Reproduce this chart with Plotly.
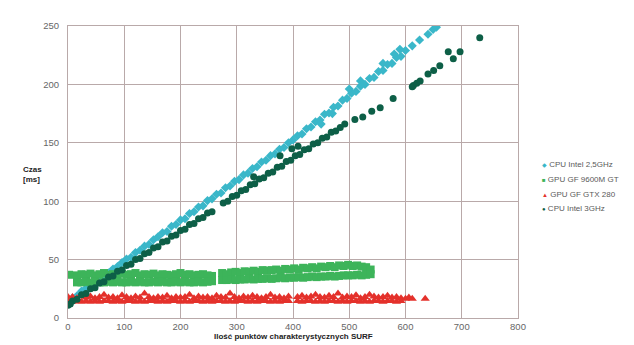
import plotly.graph_objects as go

# ---------------- data ----------------
series_names = ["CPU Intel 2,5GHz", "GPU GF 9600M GT", "GPU GF GTX 280", "CPU Intel 3GHz"]
series_colors = ["#3ab7c9", "#3db45a", "#e4312b", "#0d5f47"]
legend_glyphs = ["◆", "■", "▲", "●"]

# CPU Intel 2,5GHz
cpu25_x = [0, 8, 16, 24, 32, 40, 48, 56, 64, 72, 80, 88, 96, 104, 112, 120, 128, 136, 144, 152,
           160, 168, 176, 184, 192, 200, 208, 216, 224, 232, 240, 248, 256, 264, 272, 280, 288, 296, 304, 312,
           320, 328, 336, 344, 352, 360, 368, 376, 384, 392, 400, 408, 416, 424, 432, 440, 448, 456, 464, 472,
           480, 488, 496, 504, 512, 520, 528, 536, 544, 552, 560, 568, 576, 584, 592, 600,
           612, 625, 640, 649, 655, 450, 470, 500, 520, 560, 580, 590]
cpu25_y = [14.5, 17, 19, 23, 25.5, 27, 31, 33, 37, 38.5, 42, 44, 47.5, 50.5, 52, 56, 58, 61.5, 63, 67,
           69.5, 73, 74, 78.5, 80, 84, 85, 89.5, 91, 95, 96, 100.5, 102, 106, 107, 111.5, 113, 117, 118.5, 122.5,
           124, 128, 129.5, 133.5, 135, 139, 140.5, 144.5, 146, 150, 152.5, 156, 157.5, 162, 163.5, 168, 169.5, 174.5, 175.5, 180.5,
           181.5, 186.5, 188, 192.5, 194, 198.5, 200, 205, 206, 211, 212, 217, 218, 223, 224, 229,
           233, 238, 243, 247, 249, 166, 175, 196, 203, 218, 226, 230]

# GPU GF 9600M GT (band: upper and lower samples)
gf9600_x = [16, 24, 32, 40, 48, 56, 64, 72, 80, 88, 96, 104, 112, 120, 128, 136, 144, 152, 160, 168,
            176, 184, 192, 200, 208, 216, 224, 232, 240, 248, 256,
            274, 282, 290, 298, 306, 314, 322, 330, 338, 346, 354, 362, 370, 378, 386, 394, 402, 410, 418,
            426, 434, 442, 450, 458, 466, 474, 482, 490, 498, 506, 514, 522, 530, 538]
gf9600_y_top = [36.5, 37.5, 37, 38, 36.5, 37.5, 38.5, 37, 37.5, 36.5, 38, 37, 37.5, 38.5, 36.5, 37.5, 37, 38, 36.5, 37.5,
                37, 36.5, 37.5, 38.5, 37, 37.5, 36.5, 37, 37.5, 36.5, 36,
                38.5, 37.5, 39, 39.5, 38.5, 40, 39.5, 40.5, 39.5, 41, 40.5, 41, 41.5, 40.5, 42, 41.5, 42.5, 41.5, 43,
                42.5, 43.5, 42.5, 44, 43.5, 44.5, 43.5, 45, 44.5, 45.5, 44.5, 45, 44, 43.5, 41.5]
gf9600_y_bottom = [30.5, 30.5, 31, 30.5, 31, 30.5, 30.5, 31, 30.5, 31, 30.5, 30.5, 31, 30.5, 31, 30.5, 30.5, 31, 30.5, 31,
                   30.5, 30.5, 31, 30.5, 31, 30.5, 30.5, 31, 30.5, 31, 31.5,
                   32.5, 32.5, 33, 32.5, 33, 33, 33.5, 33, 33.5, 33.5, 34, 33.5, 34, 34.5, 34, 34.5, 34.5, 35, 34.5,
                   35, 35.5, 35, 35.5, 35.5, 36, 35.5, 36, 36.5, 36.5, 36.5, 37, 36.5, 37, 37.5]
gf9600_extra_x = [2]
gf9600_extra_y = [37]

# GPU GF GTX 280 (band: upper and lower samples)
gtx280_x = [0, 8, 16, 24, 32, 40, 48, 56, 64, 72, 80, 88, 96, 104, 112, 120, 128, 136, 144, 152,
            160, 168, 176, 184, 192, 200, 208, 216, 224, 232, 240, 248, 256, 264, 272, 280, 288, 296, 304, 312,
            320, 328, 336, 344, 352, 360, 368, 376, 384, 392,
            408, 416, 424, 432, 440, 448, 456, 464, 472, 480, 488, 496, 504, 512, 520, 528, 536, 544, 552, 560,
            568, 576, 584, 592]
gtx280_y_high = [18, 18, 17, 19, 17.5, 18.5, 17, 18, 20, 17.5, 18, 17, 19.5, 18, 17, 18.5, 17.5, 21, 18, 17,
                 18, 17.5, 19, 17, 18, 17.5, 18, 20, 17, 18.5, 17.5, 18, 17, 19, 18, 17.5, 21, 18, 17, 18.5,
                 17.5, 19, 18, 17, 18, 20, 17.5, 18, 17, 18.5,
                 18, 19, 17.5, 18.5, 20, 18, 17.5, 19, 18, 21, 17.5, 18.5, 18, 19.5, 17, 18, 20, 18.5, 17.5, 18,
                 19, 17.5, 18, 17]
gtx280_y_low = [14.5, 14, 14.5, 14, 14.5, 14, 14.5, 14, 14.5, 14.5, 14, 14.5, 14, 14.5, 14.5, 14, 14.5, 14, 14.5, 14.5,
                14, 14.5, 14, 14.5, 14.5, 14, 14.5, 14, 14.5, 14.5, 14, 14.5, 14, 14.5, 14.5, 14, 14.5, 14, 14.5, 14.5,
                14, 14.5, 14, 14.5, 14.5, 14, 14.5, 14, 14.5, 14.5,
                14.5, 14, 14.5, 14.5, 14, 14.5, 14, 14.5, 14.5, 14, 14.5, 14, 14.5, 14.5, 14, 14.5, 14, 14.5, 14.5, 14,
                14.5, 14.5, 14, 14.5]
gtx280_extra_x = [600, 606, 612, 635]
gtx280_extra_y = [16.5, 17.5, 16.5, 16.5]

# CPU Intel 3GHz
cpu3_x = [0, 8, 16, 24, 32, 40, 48, 56, 64, 72, 80, 88, 96, 104, 112, 120, 128, 136, 144, 152,
          160, 168, 176, 184, 192, 200, 208, 216, 224, 232, 240, 248, 256,
          276, 284, 292, 300, 308, 316, 324, 332, 340, 348, 356, 364, 372, 380, 388, 396, 404, 412, 420,
          428, 436, 444, 452, 460, 468, 476, 484, 492,
          510, 524, 540, 555, 578, 612, 614, 620, 626, 640, 650, 661, 676, 685, 697, 732,
          377, 398, 409, 330, 4]
cpu3_y = [11, 14.5, 16, 20, 21, 25, 26, 30, 31, 35, 36, 40, 41, 45, 46, 50, 51, 55, 56, 60,
          61, 65, 66, 70, 71, 75, 76, 80, 81, 85, 86, 90, 91,
          98.5, 100, 104, 105, 109, 110, 114, 115, 119, 120, 124, 125, 129, 130, 134, 135, 139, 140, 144,
          145, 149, 150, 154, 155, 159, 160, 163, 166,
          170, 172, 177, 180, 188, 198, 199, 201, 203, 209, 212, 216, 228, 222, 228, 240,
          139, 145, 147, 121, 12]

x_ticks = [0, 100, 200, 300, 400, 500, 600, 700, 800]
y_ticks = [0, 50, 100, 150, 200, 250]
x_title = "Ilość punktów charakterystycznych SURF"
y_title = "Czas<br>[ms]"

# ---------------- figure ----------------
grid_col = "#b9a9a9"
fig = go.Figure()

fig.add_trace(go.Scatter(
    x=cpu25_x, y=cpu25_y, mode="markers", name=series_names[0],
    marker=dict(symbol="diamond", size=7, color=series_colors[0], line=dict(width=0))))

fig.add_trace(go.Scatter(
    x=gf9600_x + gf9600_x + gf9600_extra_x,
    y=gf9600_y_top + gf9600_y_bottom + gf9600_extra_y,
    mode="markers", name=series_names[1],
    marker=dict(symbol="square", size=8, color=series_colors[1], line=dict(width=0))))

fig.add_trace(go.Scatter(
    x=gtx280_x + gtx280_x + gtx280_extra_x,
    y=gtx280_y_high + gtx280_y_low + gtx280_extra_y,
    mode="markers", name=series_names[2],
    marker=dict(symbol="triangle-up", size=8, color=series_colors[2], line=dict(width=0))))

fig.add_trace(go.Scatter(
    x=cpu3_x, y=cpu3_y, mode="markers", name=series_names[3],
    marker=dict(symbol="circle", size=7, color=series_colors[3], line=dict(width=0))))

# legend drawn as text rows at the right of the plot
legend_rows_y = [0.527, 0.473, 0.424, 0.375]
annotations = []
for name, col, glyph, yy in zip(series_names, series_colors, legend_glyphs, legend_rows_y):
    annotations.append(dict(
        text="<span style='color:%s;font-size:6px'>%s</span> %s" % (col, glyph, name),
        xref="paper", yref="paper", x=1.048, y=yy, xanchor="left", yanchor="middle",
        showarrow=False, font=dict(size=8, color="#5a5a5a")))

annotations += [
    dict(text="<b>" + x_title + "</b>", xref="paper", yref="paper", x=0.5, y=-0.064,
         xanchor="center", yanchor="middle", showarrow=False,
         font=dict(size=8, color="#222222")),
    dict(text="<b>" + y_title + "</b>", xref="paper", yref="paper", x=-0.08, y=0.49,
         xanchor="center", yanchor="middle", showarrow=False, align="left",
         font=dict(size=8, color="#222222")),
]

# page body adds an 8px margin, so the figure is 8px smaller on each axis
fig.update_layout(
    width=626, height=337,
    margin=dict(l=60, r=116, t=12, b=27),
    paper_bgcolor="white", plot_bgcolor="white",
    font=dict(family="Liberation Sans, Arial, sans-serif", size=9, color="#666666"),
    showlegend=False,
    xaxis=dict(range=[0, 800], tickvals=x_ticks, ticktext=[str(v) for v in x_ticks],
               showgrid=True, gridcolor=grid_col, gridwidth=1,
               showline=True, linecolor=grid_col, mirror=True, zeroline=False,
               ticks="", tickfont=dict(size=9.5, color="#666666")),
    yaxis=dict(range=[0, 250], tickvals=y_ticks, ticktext=[str(v) for v in y_ticks],
               showgrid=True, gridcolor=grid_col, gridwidth=1,
               showline=True, linecolor=grid_col, mirror=True, zeroline=False,
               ticks="", ticklabelstandoff=6, tickfont=dict(size=9.5, color="#666666")),
    annotations=annotations,
)

fig.write_html("out.html")
